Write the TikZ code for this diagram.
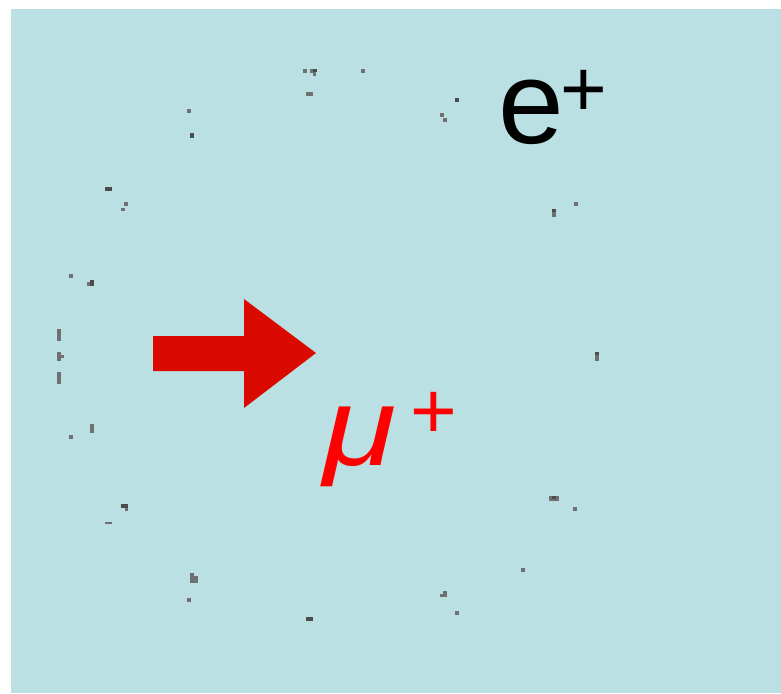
\documentclass[tikz,border=0pt]{standalone}
\usepackage{fontspec}
\setmainfont{Liberation Sans}
\definecolor{bgteal}{HTML}{BAE0E3}
\definecolor{arrowred}{HTML}{DA0A00}
\definecolor{dotgray}{HTML}{707070}
\definecolor{dotdark}{HTML}{4C4C4C}
\tikzset{
  dot/.style={fill=dotgray},
  dotd/.style={fill=dotdark},
  bigtxt/.style={inner sep=0pt, anchor=base west, font=\fontsize{118}{120}\selectfont},
  suptxt/.style={inner sep=0pt, anchor=base west, font=\fontsize{80}{82}\selectfont},
}
\begin{document}
\begin{tikzpicture}[x=1pt,y=-1pt]
\useasboundingbox (0,0) rectangle (781,693);
\fill[bgteal] (11,9) rectangle (781,693);
% arrow
\fill[arrowred] (153,336) -- (244,336) -- (244,299) -- (316,353) -- (244,408) -- (244,371) -- (153,371) -- cycle;
% texts
\node[bigtxt] (e) at (498,143) {e};
\node[suptxt] (ep) at (560,116) {+};
\node[bigtxt, text=red] (mu) at (323,465) {\scalebox{1.13}[0.94]{\itshape μ}};
\node[suptxt, text=red] (mup) at (410,438) {+};
% dots
\foreach \a/\b/\c/\d in {303/69/307/73, 310/69/314/73, 313/72/316/76, 306/92/313/96, 361/69/365/73,
  440/113/444/117, 443/118/447/122, 187/109/191/113, 124/202/128/206, 121/208/125/211,
  69/274/73/278, 87/282/91/286, 57/329/61/341, 57/352/61/361, 61/355/64/358, 57/372/61/384,
  90/424/94/433, 69/435/73/439, 574/202/578/206, 552/212/556/217, 595/355/599/361,
  125/508/128/511, 105/522/112/524, 190/573/194/577, 190/576/198/583, 187/598/191/602,
  440/594/447/597, 443/591/447/595, 455/611/459/615, 549/496/559/501, 573/507/577/511, 521/568/525/572}
  \fill[dot] (\a,\b) rectangle (\c,\d);
\foreach \a/\b/\c/\d in {313/69/317/72, 455/98/459/102, 190/133/194/138, 105/187/112/191, 90/280/94/286,
  552/209/556/212, 595/352/599/355, 121/504/128/508, 306/617/313/621, 552/496/556/499}
  \fill[dotd] (\a,\b) rectangle (\c,\d);
\end{tikzpicture}
\end{document}
